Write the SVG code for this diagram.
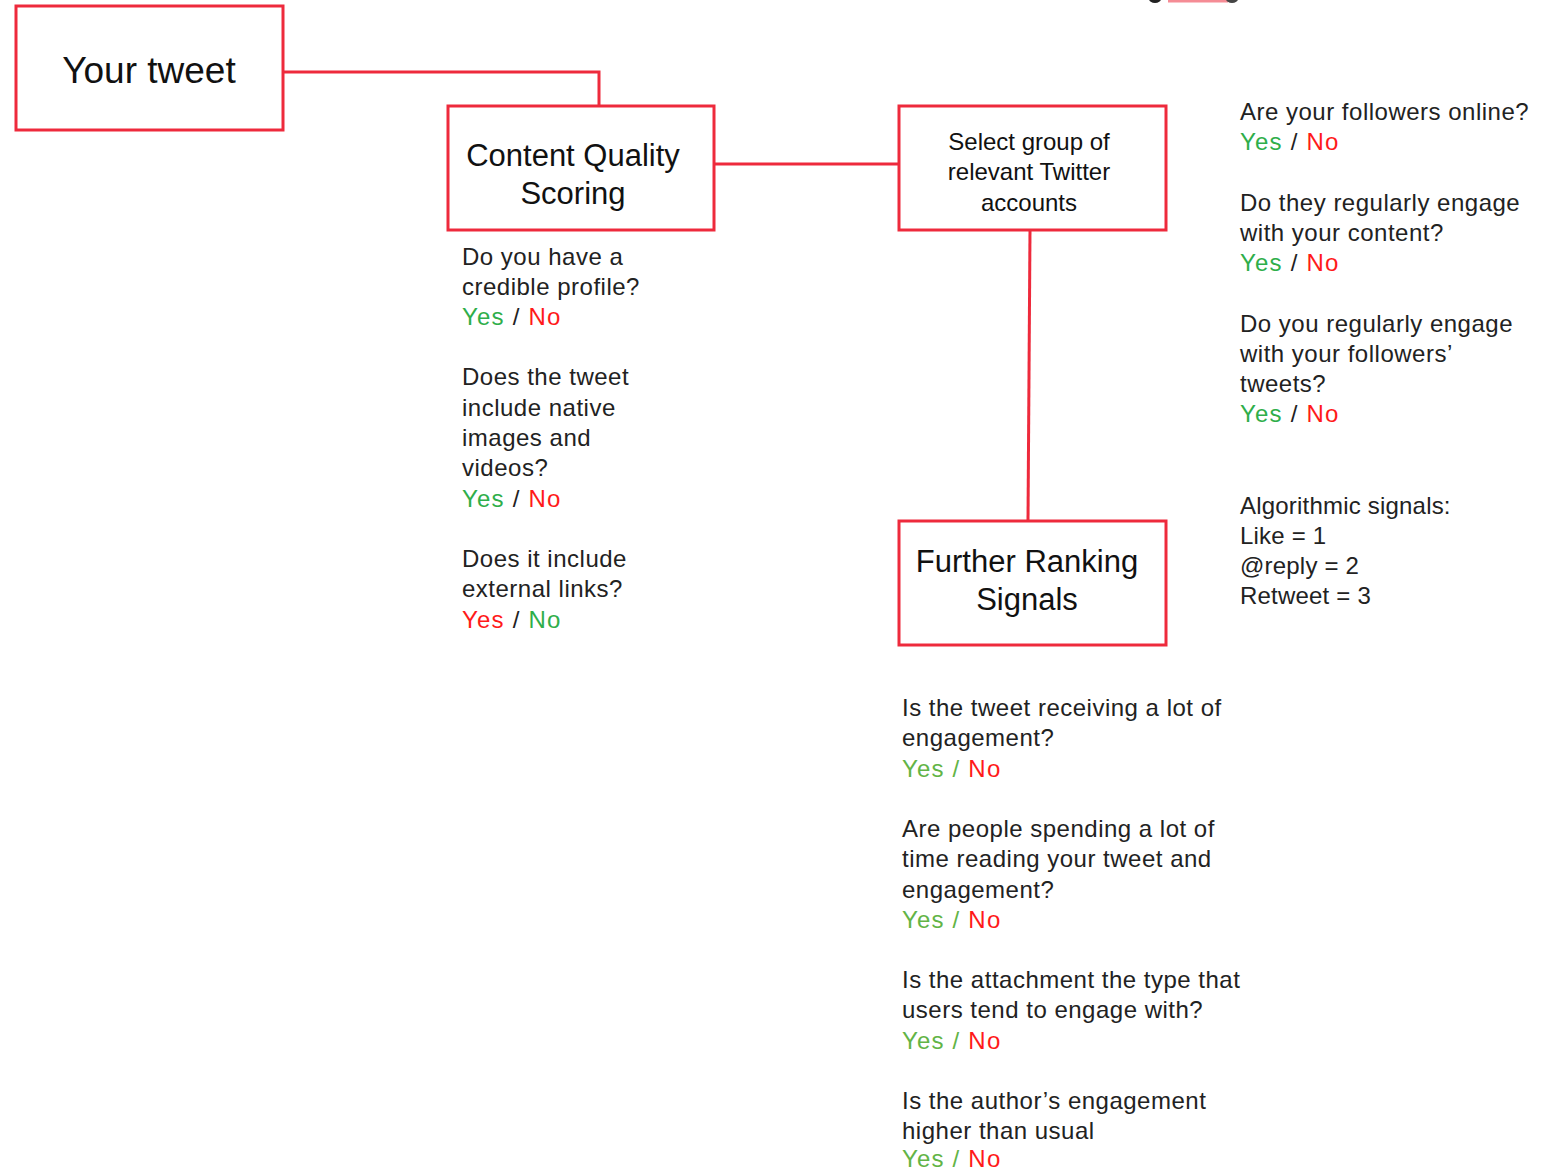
<svg xmlns="http://www.w3.org/2000/svg" width="1541" height="1170" viewBox="0 0 1541 1170">
<style>
.box{fill:#ffffff;stroke:#ee2a3c;stroke-width:3}
.conn{fill:none;stroke:#ee2a3c;stroke-width:3}
.t{font-family:"Liberation Sans",Arial,Helvetica,sans-serif;font-size:24px;letter-spacing:0.5px;fill:#222222}
.yn{letter-spacing:1.2px}
.big{font-family:"Liberation Sans",Arial,Helvetica,sans-serif;font-size:31px;fill:#111111;text-anchor:middle}
.mid{font-family:"Liberation Sans",Arial,Helvetica,sans-serif;font-size:24px;fill:#111111;text-anchor:middle}
.y{fill:#2fae4a}
.y2{fill:#62b446}
.n{fill:#ff1a1a}
</style>
<rect width="1541" height="1170" fill="#ffffff"/>
<g id="cropped-top">
<ellipse cx="1155" cy="-1" rx="6" ry="4" fill="#222222"/>
<path d="M1168 1 L1228 1" stroke="#f04050" stroke-width="3" opacity="0.6"/>
<ellipse cx="1232" cy="-1" rx="6" ry="4" fill="#444444"/>
</g>
<g id="connectors">
<path class="conn" d="M283 72 L599 72 L599 106"/>
<path class="conn" d="M714 164 L899 164"/>
<path class="conn" d="M1030 230 L1028 521"/>
</g>
<g id="node-your-tweet">
<rect class="box" x="16" y="6" width="267" height="124"/>
<text class="big" x="149" y="83" style="font-size:37px">Your tweet</text>
</g>
<g id="node-content-quality">
<rect class="box" x="448" y="106" width="266" height="124"/>
<text class="big" x="573" y="166">Content Quality</text>
<text class="big" x="573" y="204">Scoring</text>
</g>
<g id="node-select-group">
<rect class="box" x="899" y="106" width="267" height="124"/>
<text class="mid" x="1029" y="150">Select group of</text>
<text class="mid" x="1029" y="180">relevant Twitter</text>
<text class="mid" x="1029" y="211">accounts</text>
</g>
<g id="node-further-ranking">
<rect class="box" x="899" y="521" width="267" height="124"/>
<text class="big" x="1027" y="572">Further Ranking</text>
<text class="big" x="1027" y="610">Signals</text>
</g>
<g id="content-quality-questions" class="t">
<text x="462" y="265">Do you have a</text>
<text x="462" y="295">credible profile?</text>
<text class="yn" x="462" y="325"><tspan class="y">Yes</tspan> / <tspan class="n">No</tspan></text>
<text x="462" y="385">Does the tweet</text>
<text x="462" y="416">include native</text>
<text x="462" y="446">images and</text>
<text x="462" y="476">videos?</text>
<text class="yn" x="462" y="507"><tspan class="y">Yes</tspan> / <tspan class="n">No</tspan></text>
<text x="462" y="567">Does it include</text>
<text x="462" y="597">external links?</text>
<text class="yn" x="462" y="628"><tspan class="n">Yes</tspan> / <tspan class="y">No</tspan></text>
</g>
<g id="select-group-questions" class="t">
<text x="1240" y="120">Are your followers online?</text>
<text class="yn" x="1240" y="150"><tspan class="y">Yes</tspan> / <tspan class="n">No</tspan></text>
<text x="1240" y="211">Do they regularly engage</text>
<text x="1240" y="241">with your content?</text>
<text class="yn" x="1240" y="271"><tspan class="y">Yes</tspan> / <tspan class="n">No</tspan></text>
<text x="1240" y="332">Do you regularly engage</text>
<text x="1240" y="362">with your followers’</text>
<text x="1240" y="392">tweets?</text>
<text class="yn" x="1240" y="422"><tspan class="y">Yes</tspan> / <tspan class="n">No</tspan></text>
</g>
<g id="algorithmic-signals" class="t" style="letter-spacing:0.2px">
<text x="1240" y="514">Algorithmic signals:</text>
<text x="1240" y="544">Like = 1</text>
<text x="1240" y="574">@reply = 2</text>
<text x="1240" y="604">Retweet = 3</text>
</g>
<g id="further-ranking-questions" class="t">
<text x="902" y="716">Is the tweet receiving a lot of</text>
<text x="902" y="746">engagement?</text>
<text class="yn" x="902" y="777"><tspan class="y2">Yes / </tspan><tspan class="n">No</tspan></text>
<text x="902" y="837">Are people spending a lot of</text>
<text x="902" y="867">time reading your tweet and</text>
<text x="902" y="898">engagement?</text>
<text class="yn" x="902" y="928"><tspan class="y2">Yes / </tspan><tspan class="n">No</tspan></text>
<text x="902" y="988">Is the attachment the type that</text>
<text x="902" y="1018">users tend to engage with?</text>
<text class="yn" x="902" y="1049"><tspan class="y2">Yes / </tspan><tspan class="n">No</tspan></text>
<text x="902" y="1109">Is the author’s engagement</text>
<text x="902" y="1139">higher than usual</text>
<text class="yn" x="902" y="1167"><tspan class="y2">Yes / </tspan><tspan class="n">No</tspan></text>
</g>
</svg>
